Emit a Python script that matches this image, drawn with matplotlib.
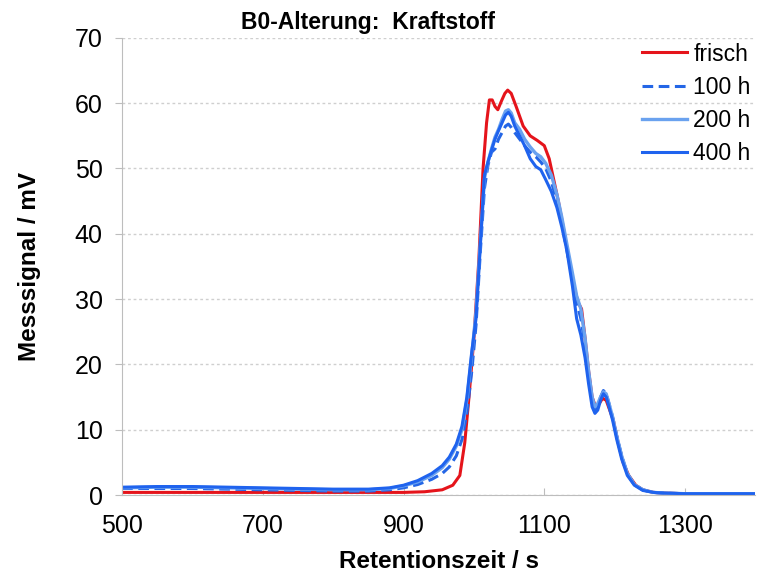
import matplotlib
matplotlib.use('Agg')
import matplotlib.pyplot as plt

plt.rcParams['font.family'] = ['Liberation Sans', 'DejaVu Sans']

# fresh fuel
frisch_x = [500, 600, 700, 800, 900, 930, 955, 970, 980, 987,
            993, 1000, 1007, 1013, 1018, 1022, 1026, 1030, 1034, 1039,
            1044, 1048, 1053, 1060, 1070, 1080, 1090, 1100, 1107, 1113,
            1120, 1127, 1135, 1142, 1148, 1153, 1158, 1163, 1168, 1173,
            1178, 1183, 1188, 1193, 1198, 1205, 1212, 1220, 1230, 1240,
            1255, 1270, 1300, 1400]
frisch_y = [0.4, 0.4, 0.4, 0.4, 0.4, 0.5, 0.8, 1.5, 3, 8,
            15, 24, 36, 50, 57, 60.5, 60.5, 59.5, 59, 60.3,
            61.5, 62, 61.5, 59.5, 56.5, 55, 54.3, 53.5, 51.5, 48.5,
            45, 41, 36, 32, 29.5, 28.5, 24, 19, 15, 13.5,
            14, 14.8, 14.5, 13, 11.5, 8, 5, 3, 1.5, 0.8,
            0.4, 0.3, 0.2, 0.2]

# aged samples (common time axis)
t_aged = [500, 550, 600, 650, 700, 750, 800, 850, 880, 900,
          920, 940, 955, 965, 975, 983, 990, 997, 1003, 1009,
          1015, 1020, 1025, 1030, 1035, 1040, 1045, 1049, 1053, 1058,
          1065, 1072, 1080, 1088, 1095, 1102, 1110, 1118, 1125, 1132,
          1140, 1146, 1152, 1158, 1163, 1168, 1172, 1176, 1180, 1184,
          1188, 1192, 1197, 1203, 1210, 1218, 1228, 1240, 1255, 1270,
          1300, 1350, 1400]
h100 = [1.0, 1.0, 1.0, 0.9, 0.8, 0.7, 0.6, 0.6, 0.8, 1.1,
        1.6, 2.4, 3.3, 4.3, 6, 8.5, 12.5, 19, 26, 37,
        47, 50.5, 52.5, 53, 54.5, 55.5, 56.5, 56.8, 56.3, 55.5,
        54.5, 53.5, 52.5, 51.8, 51, 50, 48, 45, 41.5, 37.5,
        33, 29.5, 27, 23, 18.5, 14.5, 13, 13.5, 15, 16,
        15.5, 14, 12, 9, 6, 3.3, 1.6, 0.8, 0.4, 0.3,
        0.2, 0.2, 0.2]
h200 = [1.1, 1.2, 1.2, 1.1, 1.0, 0.9, 0.8, 0.8, 1.0, 1.4,
        2.0, 3.0, 4.2, 5.5, 7.5, 10, 14.5, 21.5, 28, 38.5,
        48.5, 51, 53, 54.8, 56, 57.5, 58.8, 59, 58.5, 57,
        56, 54.5, 53.3, 52.3, 51.8, 50.8, 49, 46, 42.5, 38.5,
        34, 30.5, 28.5, 24, 19, 15, 13.5, 14, 15, 15.8,
        15.5, 14, 12, 9, 6, 3.3, 1.6, 0.8, 0.4, 0.3,
        0.2, 0.2, 0.2]
h400 = [1.2, 1.3, 1.3, 1.2, 1.1, 1.0, 0.9, 0.9, 1.1, 1.5,
        2.2, 3.3, 4.5, 5.8, 7.8, 10.5, 15, 22, 27, 38,
        49, 51, 52.8, 54.5, 55.8, 57, 58.2, 58.6, 58, 56.5,
        55, 53.5, 51.5, 50.3, 49.8, 48.3, 46.5, 44, 41, 37.5,
        32, 27, 24.5, 21, 17, 13.5, 12.5, 13, 14.5, 15.5,
        15, 13.5, 11.5, 8.5, 5.5, 3, 1.5, 0.7, 0.4, 0.3,
        0.2, 0.2, 0.2]

fig = plt.figure(figsize=(7.63, 5.74), dpi=100)
ax = fig.add_axes([0.16, 0.1376, 0.83, 0.7964])

ax.plot(frisch_x, frisch_y, color='#e5141b', lw=2.2, label='frisch')
ax.plot(t_aged, h100, color='#2466e6', lw=2.2, ls=(0, (3.5, 1.8)), label='100 h')
ax.plot(t_aged, h200, color='#6aa2ef', lw=2.4, label='200 h')
ax.plot(t_aged, h400, color='#1f63ee', lw=2.2, label='400 h')

ax.set_xlim(500, 1400)
ax.set_ylim(0, 70)
ax.set_xticks([500, 700, 900, 1100, 1300])
ax.set_yticks(range(0, 71, 10))
ax.yaxis.grid(True, ls=(0, (2, 2)), color='#cfcfcf', lw=1)
ax.set_axisbelow(True)
for s in ['top', 'right']:
    ax.spines[s].set_visible(False)
for s in ['left', 'bottom']:
    ax.spines[s].set_color('#bdbdbd')
ax.tick_params(axis='x', direction='in', length=5, color='#bdbdbd', labelsize=18, pad=14)
ax.tick_params(axis='y', direction='out', length=5, color='#bdbdbd', labelsize=18, pad=9)

ax.set_xlabel('Retentionszeit / s', fontsize=17.5, fontweight='bold', labelpad=8)
ax.set_ylabel('Messsignal / mV', fontsize=17.5, fontweight='bold', labelpad=24)
fig.text(368 / 763, 1 - 22 / 574, 'B0-Alterung:  Kraftstoff', fontsize=16.5, fontweight='bold',
         ha='center', va='center')

ax.legend(loc='upper right', bbox_to_anchor=(1.025, 1.035), frameon=False, fontsize=16.5,
          handlelength=2.0, handletextpad=0.25, labelspacing=0.45)

plt.savefig('out.png', dpi=100)
